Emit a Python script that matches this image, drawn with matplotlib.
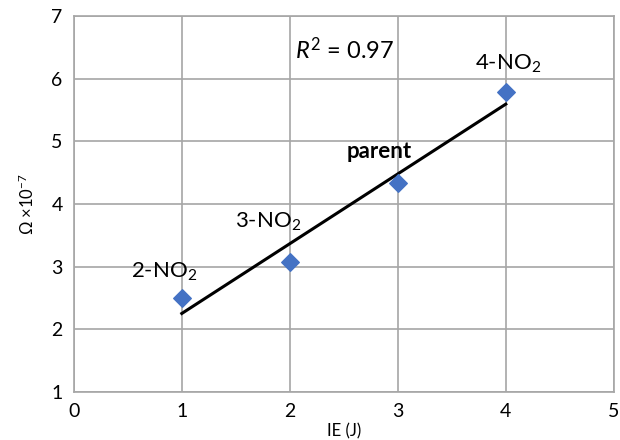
import numpy as np
import matplotlib.pyplot as plt

plt.rcParams['font.family'] = ['Lato', 'DejaVu Sans']
plt.rcParams['mathtext.fontset'] = 'custom'
plt.rcParams['mathtext.rm'] = 'Lato'
plt.rcParams['mathtext.it'] = 'Lato:italic'

# data
ie = [1, 2, 3, 4]
omega = [2.50, 3.07, 4.33, 5.79]
names = ['2-NO$_2$', '3-NO$_2$', 'parent', '4-NO$_2$']
label_pos = [(0.84, 2.92), (1.80, 3.71), (2.83, 4.83), (4.02, 6.23)]

# linear trend line
slope, icpt = np.polyfit(ie, omega, 1)
fit_x = np.array([ie[0], ie[-1]])
fit_y = slope * fit_x + icpt

fig = plt.figure(figsize=(6.2, 4.4), dpi=100)
ax = fig.add_axes([0.119, 0.109, 0.871, 0.855])

ax.plot(fit_x, fit_y, color='black', lw=2.2, zorder=3)
ax.scatter(ie, omega, marker='D', s=80, color='#4472C4', zorder=4)

for name, (lx, ly) in zip(names, label_pos):
    ax.text(lx, ly, name, ha='center', va='center', fontsize=16,
            fontweight='bold' if name == 'parent' else 'normal')

ax.text(2.51, 6.46, '$R^2$ = 0.97', ha='center', va='center', fontsize=17)

ax.set_xlim(0, 5)
ax.set_ylim(1, 7)
ax.set_xticks(range(0, 6))
ax.set_yticks(range(1, 8))
ax.grid(True, color='#a6a6a6', lw=1.2)
ax.set_axisbelow(True)
for s in ax.spines.values():
    s.set_color('#a6a6a6')
    s.set_linewidth(1.2)
ax.tick_params(length=0, labelsize=14, pad=8)
ax.set_xlabel('IE (J)', fontsize=12, labelpad=2)
ax.set_ylabel('Ω ×10$^{-7}$', fontsize=12, labelpad=10)

fig.savefig('out.png', dpi=100)
